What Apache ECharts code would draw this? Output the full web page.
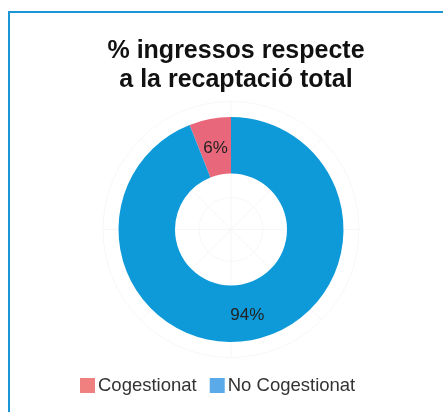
<!DOCTYPE html>
<html>
<head>
<meta charset="utf-8">
<script src="https://cdn.jsdelivr.net/npm/echarts@6/dist/echarts.min.js"></script>
<style>
html,body{margin:0;padding:0;background:#fff;}
#frame{position:absolute;left:8px;top:11px;width:440px;height:410px;border-top:2px solid #1a96d6;border-left:2px solid #1a96d6;box-sizing:border-box;}
#chart{position:absolute;left:0;top:0;width:443px;height:412px;}
</style>
</head>
<body>
<div id="frame"></div>
<div id="chart"></div>
<script>
const categories = ['Cogestionat', 'No Cogestionat'];
const values = [6, 94];
const sliceColors = ['#e8677a', '#0e9ad8'];
const legendColors = ['#f08080', '#5aa9e8'];
const titleText = '% ingressos respecte\na la recaptació total';

const chart = echarts.init(document.getElementById('chart'), null, {renderer: 'canvas'});
const font = '"Liberation Sans", Arial, Helvetica, sans-serif';
chart.setOption({
  animation: false,
  title: {
    text: titleText,
    left: 231, top: 32, textAlign: 'center',
    textStyle: {fontFamily: font, fontWeight: 'bold', fontSize: 25, lineHeight: 29, color: '#111'}
  },
  legend: {
    left: 80, top: 376, padding: 0,
    itemWidth: 15, itemHeight: 15, itemGap: 13,
    icon: 'rect',
    textStyle: {fontFamily: font, fontSize: 18.5, color: '#333', padding: [0,0,0,-2]},
    data: categories.map((c, i) => ({name: c, itemStyle: {color: legendColors[i]}}))
  },
  polar: {center: [231, 229.5], radius: [0, 128]},
  angleAxis: {
    type: 'value', min: 0, max: 360, interval: 45, startAngle: 90,
    axisLine: {show: false}, axisTick: {show: false}, axisLabel: {show: false},
    splitLine: {show: true, lineStyle: {color: '#f6f6f6', width: 1}}
  },
  radiusAxis: {
    type: 'value', min: 0, max: 128, interval: 32,
    axisLine: {show: false}, axisTick: {show: false}, axisLabel: {show: false},
    splitLine: {show: true, lineStyle: {color: '#f7f7f7', width: 1}}
  },
  series: [{
    type: 'pie',
    center: [231, 229.5],
    radius: [56, 112.5],
    startAngle: 90,
    clockwise: false,
    silent: true,
    label: {
      position: 'inside',
      formatter: '{c}%',
      fontFamily: font, fontSize: 17, color: '#222'
    },
    labelLine: {show: false},
    data: categories.map((c, i) => ({
      name: c, value: values[i],
      itemStyle: {color: sliceColors[i]},
      label: i === 0 ? {offset: [1, 5]} : {}
    }))
  }]
});
</script>
</body>
</html>
